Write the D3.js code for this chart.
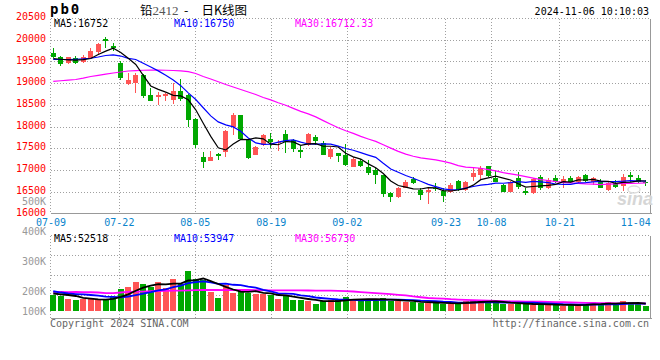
<!DOCTYPE html>
<html>
<head>
<meta charset="utf-8">
<script src="https://cdn.jsdelivr.net/npm/d3@7"></script>
<style>
  html, body { margin: 0; padding: 0; background: #fff; }
  svg { display: block; }
  text { font-family: "DejaVu Sans Mono", monospace; font-size: 10px; }
</style>
</head>
<body>
<svg id="chart" width="660" height="360"></svg>
<script>
// trading days shown (07-09 .. 11-06)
const dates = [
  "07-09","07-10","07-11","07-12","07-15","07-16","07-17","07-18","07-19","07-22",
  "07-23","07-24","07-25","07-26","07-29","07-30","07-31","08-01","08-02","08-05",
  "08-06","08-07","08-08","08-09","08-12","08-13","08-14","08-15","08-16","08-19",
  "08-20","08-21","08-22","08-23","08-26","08-27","08-28","08-29","08-30","09-02",
  "09-03","09-04","09-05","09-06","09-09","09-10","09-11","09-12","09-13","09-18",
  "09-19","09-20","09-23","09-24","09-25","09-26","09-27","09-30","10-08","10-09",
  "10-10","10-11","10-14","10-15","10-16","10-17","10-18","10-21","10-22","10-23",
  "10-24","10-25","10-28","10-29","10-30","10-31","11-01","11-04","11-05","11-06"
];
const open = [
  19695,19596,19465,19573,19494,19587,19711,20010,19856,19471,
  18981,18993,19188,18728,18677,18716,18624,18820,18728,18175,
  17307,17215,17370,17423,17998,18267,17692,17347,17577,17715,
  17616,17830,17692,17462,17577,17761,17630,17307,17386,17347,
  17077,17209,17077,17001,16886,16479,16373,16594,16787,16541,
  16502,16594,16518,16488,16748,16541,16833,16886,17093,16810,
  16656,16502,16810,16518,16479,16847,16580,16824,16709,16824,
  16718,16886,16732,16732,16541,16695,16633,16886,16810,16732
];
const high = [
  19817,19633,19610,19626,19649,19817,19918,20070,19932,19511,
  19227,19234,19200,18882,18808,18769,19004,19096,18751,18198,
  17409,17439,17386,17922,18320,18267,17692,17554,17830,17860,
  17692,17922,17715,17554,17860,17807,17669,17524,17393,17600,
  17307,17248,17232,17040,16886,16502,16617,16771,16847,16580,
  16580,16695,16580,16709,16771,16755,17077,17093,17093,16978,
  16679,16755,16962,16580,16810,16886,16810,16886,16863,16863,
  16863,16909,16847,16787,16732,16771,16902,16962,16886,16771
];
const low = [
  19573,19402,19435,19442,19471,19573,19649,19803,19741,19073,
  18965,18785,18652,18590,18491,18583,18521,18601,17998,17515,
  17040,17209,17232,17307,17807,17692,17255,17347,17554,17501,
  17446,17386,17423,17271,17554,17577,17347,17255,17192,17093,
  17064,17077,16886,16679,16373,16272,16350,16580,16679,16311,
  16219,16525,16272,16465,16525,16525,16755,16794,16847,16718,
  16488,16488,16564,16426,16449,16541,16557,16695,16580,16695,
  16679,16732,16656,16580,16525,16594,16525,16732,16695,16633
];
const close = [
  19610,19435,19596,19465,19603,19741,19902,19971,19803,19119,
  19073,19181,18712,18597,18728,18746,18820,18643,18152,17577,
  17192,17307,17331,17906,18267,17715,17284,17524,17807,17646,
  17653,17653,17478,17409,17830,17676,17347,17478,17324,17116,
  17255,17093,16925,16886,16449,16387,16580,16732,16695,16426,
  16541,16557,16410,16656,16541,16718,16939,17040,16863,16732,
  16502,16718,16617,16479,16794,16580,16771,16732,16794,16732,
  16847,16748,16810,16594,16709,16617,16847,16847,16732,16695
];
const volume = [
  115000,110000,86000,79000,84000,84000,84000,80000,103000,158000,
  175000,211000,196000,175000,211000,168000,232000,196000,290000,228000,
  223000,135000,96000,187000,132000,146000,127000,125000,120000,115000,
  88000,113000,81000,76000,74000,53000,72000,77000,79000,101000,
  81000,81000,88000,72000,94000,72000,70000,65000,65000,58000,
  60000,58000,53000,53000,53000,70000,77000,70000,65000,60000,
  53000,53000,53000,48000,45000,48000,45000,45000,36000,45000,
  41000,53000,65000,41000,65000,41000,72000,65000,48000,36000
];

// moving-average values before the window is full
const ma5Head = [19563, 19550, 19538, 19529];
const ma10Head = [19545, 19545, 19545, 19550, 19557, 19573, 19603, 19637, 19649];
const ma30Head = [
  19039,19055,19069,19085,19115,19154,19181,19207,19234,19257,
  19280,19290,19297,19299,19299,19297,19292,19285,19264,19223,
  19154,19096,19034,18970,18912,18855,18797,18739,18670
];
const volMa5Head = [126000, 120000, 115000, 108000];
const volMa10Head = [142000, 133000, 126000, 122000, 119000, 115000, 110000, 104000, 101000];
const volMa30Head = [
  137000,137000,136000,137000,135000,135000,133000,129000,129000,133000,
  137000,139000,140000,142000,144000,145000,147000,147000,149000,150000,
  151000,152000,151000,150000,151000,152000,151000,150000,150000
];

const priceTicks = [16000,16500,17000,17500,18000,18500,19000,19500,20000,20500];
const volTicks = [100000,200000,300000,400000,500000];
const xTicks = ["07-09","07-22","08-05","08-19","09-02","09-23","10-08","10-21","11-04"];

const legendMain = [
  {label: "MA5:16752", color: "#000000", x: 54},
  {label: "MA10:16750", color: "#0000ff", x: 174},
  {label: "MA30:16712.33", color: "#ff00ff", x: 295}
];
const legendVol = [
  {label: "MA5:52518", color: "#000000", x: 54},
  {label: "MA10:53947", color: "#0000ff", x: 174},
  {label: "MA30:56730", color: "#ff00ff", x: 295}
];

const UP = "#ff5555", DOWN = "#00a800", GRID = "#a0a0a0", FRAME = "#999999";

function movingAvg(arr, n, head) {
  return arr.map((_, i) => i < n - 1 ? head[i] : d3.mean(arr.slice(i - n + 1, i + 1)));
}

const svg = d3.select("#chart");
const L = 50.5, R = 650.5, T = 18.5, B = 213.5;   // price panel
const VT = 235.5, VB = 318.5;                       // volume panel

const x = d3.scaleBand().domain(dates).range([49.5, 649.5]);
const cx = d => x(d) + x.bandwidth() / 2;
const gx = d3.scaleLinear().domain([0, dates.length - 1]).range([L, R]);
const y = d3.scaleLinear().domain([16000, 20500]).range([B, 18]);
const yv = d3.scaleLinear().domain([0, 300000]).range([311, 269.3]);
const yvLabel = d3.scaleLinear().domain([100000, 200000, 500000]).range([311, 291, 201]);
const vGrid = d3.scaleLinear().domain([0, 4]).range([VT, VT + 80]);

const rows = dates.map((d, i) => ({
  date: d, o: open[i], h: high[i], l: low[i], c: close[i], v: volume[i],
  up: close[i] >= open[i]
}));

// ---- grids ----
const grid = svg.append("g")
  .attr("stroke", GRID).attr("stroke-dasharray", "1,2").attr("shape-rendering", "crispEdges");
grid.selectAll(".hp").data(priceTicks.filter(t => t > 16000))
  .join("line")
  .attr("x1", L).attr("x2", R)
  .attr("y1", d => Math.round(y(d)) + 0.5).attr("y2", d => Math.round(y(d)) + 0.5);
grid.append("line").attr("x1", L).attr("x2", L).attr("y1", T).attr("y2", B);
const vx = xTicks.slice(1, -1).map(t => Math.round(gx(dates.indexOf(t))) + 0.5);
grid.selectAll(".vp").data(vx).join("line")
  .attr("x1", d => d).attr("x2", d => d).attr("y1", T).attr("y2", B);
grid.selectAll(".vv").data(vx).join("line")
  .attr("x1", d => d).attr("x2", d => d).attr("y1", VT).attr("y2", VB);
grid.selectAll(".hv").data([0, 1, 2, 3]).join("line")
  .attr("x1", L).attr("x2", R)
  .attr("y1", d => vGrid(d)).attr("y2", d => vGrid(d));
grid.append("line").attr("x1", L).attr("x2", L).attr("y1", VT).attr("y2", VB);

// frames (solid right and bottom)
const frame = svg.append("g").attr("stroke", FRAME).attr("shape-rendering", "crispEdges");
frame.append("line").attr("x1", R).attr("x2", R).attr("y1", T).attr("y2", B);
frame.append("line").attr("x1", L).attr("x2", R + 1).attr("y1", B).attr("y2", B).attr("stroke-width", 1.5);
frame.append("line").attr("x1", R).attr("x2", R).attr("y1", VT).attr("y2", VB);
frame.append("line").attr("x1", L).attr("x2", R + 1).attr("y1", VB).attr("y2", VB).attr("stroke-width", 1.5);

// ---- sina watermark ----
const wm = svg.append("g").attr("fill", "#d6d6d6");
wm.append("text").attr("x", 617).attr("y", 205)
  .style("font-family", "Liberation Sans, Arial, sans-serif").style("font-size", "18px")
  .style("font-weight", "bold").style("font-style", "italic").text("sina");
wm.append("ellipse").attr("cx", 634).attr("cy", 189.5).attr("rx", 6).attr("ry", 3.5)
  .attr("fill", "none").attr("stroke", "#dcdcdc").attr("stroke-width", 1.5);

// ---- candles ----
const candles = svg.append("g").attr("shape-rendering", "crispEdges");
const cg = candles.selectAll("g").data(rows).join("g")
  .attr("fill", d => d.up ? UP : DOWN).attr("stroke", d => d.up ? UP : DOWN);
cg.append("line")
  .attr("x1", d => Math.floor(cx(d.date)) + 0.5).attr("x2", d => Math.floor(cx(d.date)) + 0.5)
  .attr("y1", d => y(d.h)).attr("y2", d => y(d.l));
cg.append("rect")
  .attr("stroke", "none")
  .attr("x", d => Math.floor(cx(d.date)) - 2).attr("width", 5)
  .attr("y", d => y(Math.max(d.o, d.c)))
  .attr("height", d => Math.max(1.5, y(Math.min(d.o, d.c)) - y(Math.max(d.o, d.c))));

// ---- price MAs ----
const maLine = d3.line().x((d, i) => cx(dates[i])).y(d => y(d));
[[movingAvg(close, 30, ma30Head), "#ff00ff"],
 [movingAvg(close, 10, ma10Head), "#0000ff"],
 [movingAvg(close, 5, ma5Head), "#000000"]].forEach(([s, col]) => {
  svg.append("path").attr("d", maLine(s)).attr("fill", "none")
    .attr("stroke", col).attr("stroke-width", 1.2);
});

// ---- volume bars ----
svg.append("g").attr("shape-rendering", "crispEdges")
  .selectAll("rect").data(rows).join("rect")
  .attr("fill", d => d.up ? UP : DOWN)
  .attr("x", d => Math.round(cx(d.date) - 3)).attr("width", 6)
  .attr("y", d => yv(d.v)).attr("height", d => yv(0) - yv(d.v));

const vLine = d3.line().x((d, i) => cx(dates[i])).y(d => yv(d));
[[movingAvg(volume, 30, volMa30Head), "#ff00ff"],
 [movingAvg(volume, 10, volMa10Head), "#0000ff"],
 [movingAvg(volume, 5, volMa5Head), "#000000"]].forEach(([s, col]) => {
  svg.append("path").attr("d", vLine(s)).attr("fill", "none")
    .attr("stroke", col).attr("stroke-width", 1.8);
});

// ---- axes ----
const mono = "DejaVu Sans Mono, monospace";
svg.append("g").attr("transform", `translate(${L},0)`)
  .call(d3.axisLeft(y).tickValues(priceTicks).tickSize(0).tickPadding(4.5).tickFormat(d3.format("d")))
  .call(g => g.select(".domain").remove())
  .attr("font-family", mono).attr("font-size", 9.6)
  .selectAll("text").attr("fill", "#ff0000").attr("dy", "0.16em");

svg.append("g").attr("transform", `translate(${L},0)`)
  .call(d3.axisLeft(yvLabel).tickValues(volTicks).tickSize(0).tickPadding(4.5)
    .tickFormat(d => (d / 1000) + "K"))
  .call(g => g.select(".domain").remove())
  .attr("font-family", mono).attr("font-size", 9.6)
  .selectAll("text").attr("fill", "#999999");

svg.append("g").attr("transform", `translate(0,${B})`)
  .call(d3.axisBottom(gx).tickValues(xTicks.map(t => dates.indexOf(t)))
    .tickFormat(i => dates[i]).tickSize(0).tickPadding(5))
  .call(g => g.select(".domain").remove())
  .attr("font-family", mono).attr("font-size", 9.6)
  .selectAll("text").attr("fill", "#0a84cc");

// ---- legends / titles ----
svg.selectAll(".lgm").data(legendMain).join("text")
  .attr("x", d => d.x).attr("y", 27).attr("fill", d => d.color).text(d => d.label);
svg.selectAll(".lgv").data(legendVol).join("text")
  .attr("x", d => d.x).attr("y", 242).attr("fill", d => d.color).text(d => d.label);

svg.append("text").attr("x", 50).attr("y", 14)
  .style("font-size", "14px").style("font-weight", "bold").style("letter-spacing", "2px")
  .text("pb0");

const title = svg.append("text").attr("y", 14.5)
  .style("font-family", "Noto Sans CJK SC, sans-serif").style("font-size", "12.5px");
title.append("tspan").attr("x", 140).text("铅");
title.append("tspan").attr("x", 152.5).attr("fill", "#555")
  .style("font-family", "Liberation Serif, serif").style("font-size", "13px").text("2412");
title.append("tspan").attr("x", 184).text("-");
title.append("tspan").attr("x", 201.5).text("日K线图");

svg.append("text").attr("x", 649).attr("y", 15).attr("text-anchor", "end")
  .text("2024-11-06 10:10:03");

svg.append("text").attr("x", 50).attr("y", 326.5).attr("fill", "#666").text("Copyright 2024 SINA.COM");
svg.append("text").attr("x", 649).attr("y", 326.5).attr("text-anchor", "end").attr("fill", "#666")
  .text("http://finance.sina.com.cn");
</script>
</body>
</html>
